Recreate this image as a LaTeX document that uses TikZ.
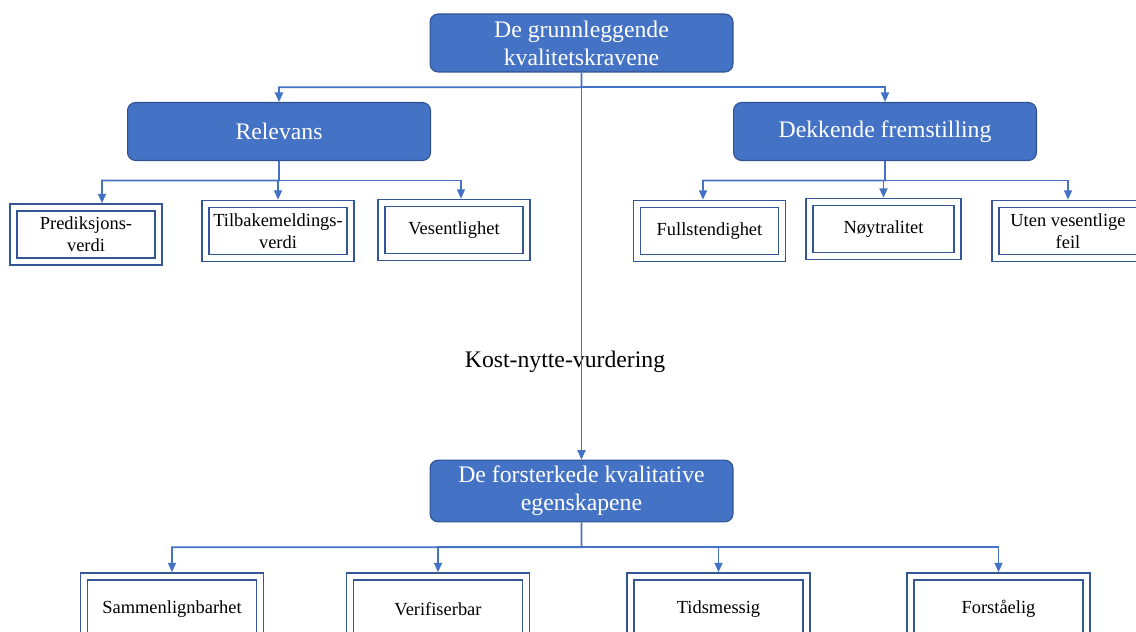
\documentclass[tikz,border=0pt]{standalone}
\usepackage{fontspec}
\setmainfont{Liberation Serif}
\usetikzlibrary{positioning,calc,arrows.meta}
\definecolor{headblue}{RGB}{68,114,196}
\definecolor{headedge}{RGB}{47,82,143}
\definecolor{leafedge}{RGB}{52,86,150}

\begin{document}
\begin{tikzpicture}[x=0.02cm, y=-0.02cm, every node/.style={font=\fontsize{10.5}{12.5}\selectfont}]
  \tikzstyle{head}=[draw=headedge, fill=headblue, text=white, rounded corners=0.16cm, minimum width=6.06cm, minimum height=1.16cm, align=center, line width=0.6pt, font=\fontsize{13.5}{16}\selectfont]
  \tikzstyle{leaf}=[draw=leafedge, double, double distance=0.11cm, line width=0.8pt, minimum width=2.9cm, minimum height=1.08cm, align=center, outer sep=0.085cm]
  \tikzstyle{link}=[draw=headblue, line width=1pt, -{Triangle[length=0.19cm, width=0.16cm]}]
  \useasboundingbox (0,0) rectangle (1136,632);

  % main boxes
  \node[head] (basic) at (581.5,43) {De grunnleggende\\kvalitetskravene};
  \node[head] (relev) at (279,131.5) {Relevans};
  \node[head] (dekk) at (885,131.5) {Dekkende fremstilling};
  \node[head] (enh) at (581.5,491) {De forsterkede kvalitative\\egenskapene};

  % first row
  \node[leaf] (pred) at (86,234.5) {Prediksjons-\\verdi};
  \node[leaf] (tilb) at (278,231) {Tilbakemeldings-\\verdi};
  \node[leaf] (vesen) at (454,230) {Vesentlighet};
  \node[leaf] (full) at (709.5,231) {Fullstendighet};
  \node[leaf, minimum width=2.96cm] (noyt) at (883.5,229) {Nøytralitet};
  \node[leaf] (uten) at (1068,231) {Uten vesentlige\\feil};

  % second row
  \node[leaf, minimum width=3.52cm, minimum height=1.3cm] (samm) at (172,609) {Sammenlignbarhet};
  \node[leaf, minimum width=3.52cm, minimum height=1.3cm] (verif) at (438,609) {Verifiserbar};
  \node[leaf, minimum width=3.52cm, minimum height=1.3cm] (tids) at (718.5,609) {Tidsmessig};
  \node[leaf, minimum width=3.52cm, minimum height=1.3cm] (forst) at (998.5,609) {Forståelig};

  \node[font=\fontsize{13.5}{16}\selectfont] (cost) at (565,362) {Kost-nytte-vurdering};

  % connectors
  \coordinate (fork1) at ($(basic.south)!0.5!(basic.south |- relev.north)$);
  \draw[link] (basic.south) -- (fork1) -| (relev.north);
  \draw[link] (fork1) -| (dekk.north);
  \draw[link] (basic.south) -- (enh.north);

  \coordinate (fork2) at ($(relev.south)!0.5!(relev.south |- tilb.north)$);
  \draw[link] (relev.south) -- (fork2) -| ([xshift=0.32cm]pred.north);
  \draw[link] (fork2) -| (tilb.north);
  \draw[link] (fork2) -| ([xshift=0.14cm]vesen.north);

  \coordinate (fork3) at ($(dekk.south)!0.5!(dekk.south |- full.north)$);
  \draw[link] (dekk.south) -- (fork3) -| ([xshift=-0.13cm]full.north);
  \draw[link] (fork3) -| (noyt.north);
  \draw[link] (fork3) -| (uten.north);

  \coordinate (fork4) at ($(enh.south)!0.5!(enh.south |- samm.north)$);
  \draw[link] (enh.south) -- (fork4) -| (samm.north);
  \draw[link] (fork4) -| (verif.north);
  \draw[link] (fork4) -| (tids.north);
  \draw[link] (fork4) -| (forst.north);
\end{tikzpicture}
\end{document}
